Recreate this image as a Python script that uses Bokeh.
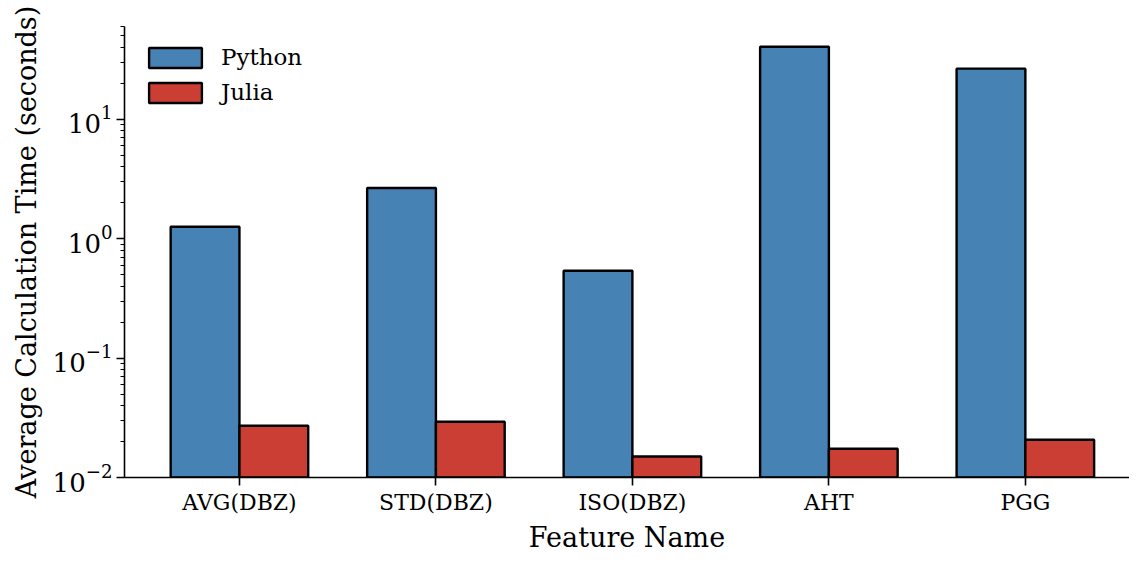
import numpy as np
from bokeh.plotting import figure
from bokeh.models import Range1d, FixedTicker, LogTicker, ColumnDataSource, Legend, LegendItem
from bokeh.embed import file_html
from bokeh.resources import INLINE

categories = ["AVG(DBZ)", "STD(DBZ)", "ISO(DBZ)", "AHT", "PGG"]
python_times = [1.26, 2.66, 0.54, 40.6, 26.6]
julia_times = [0.0271, 0.0293, 0.0150, 0.0174, 0.0207]

FONT = "DejaVu Serif"
idx = np.arange(len(categories))
bar_w = 0.35

p = figure(width=1129, height=555, y_axis_type="log",
           x_range=Range1d(-0.585, 4.53), y_range=Range1d(0.01, 60),
           output_backend="svg", toolbar_location=None,
           min_border_left=124, min_border_top=26, min_border_bottom=73, min_border_right=0)
p.outline_line_color = None
p.xgrid.visible = False
p.ygrid.visible = False

src_py = ColumnDataSource(dict(x=idx - bar_w / 2, top=python_times))
src_jl = ColumnDataSource(dict(x=idx + bar_w / 2, top=julia_times))
r_py = p.vbar(x="x", top="top", bottom=0.01, width=bar_w, source=src_py,
              fill_color="#4682B4", line_color="black", line_width=2.4)
r_jl = p.vbar(x="x", top="top", bottom=0.01, width=bar_w, source=src_jl,
              fill_color="#CB3E34", line_color="black", line_width=2.4)

legend = Legend(items=[LegendItem(label="Python", renderers=[r_py]),
                       LegendItem(label="Julia", renderers=[r_jl])],
                location="top_left", border_line_color=None, background_fill_alpha=0,
                label_text_font=FONT, label_text_font_size="23px", label_text_color="black",
                glyph_width=66, glyph_height=25, label_height=25, spacing=9,
                label_standoff=13, margin=18, padding=0)
p.add_layout(legend)

xa = p.xaxis[0]
xa.ticker = FixedTicker(ticks=list(idx))
xa.major_label_overrides = {int(i): c for i, c in zip(idx, categories)}
xa.minor_tick_line_color = None
ya = p.yaxis[0]
ya.ticker = LogTicker(num_minor_ticks=10)

for ax in (xa, ya):
    ax.axis_line_width = 1.6
    ax.axis_line_color = "black"
    ax.major_tick_line_width = 1.6
    ax.major_tick_line_color = "black"
    ax.major_tick_out = 8
    ax.major_tick_in = 0
    ax.minor_tick_out = 4
    ax.minor_tick_in = 0
    ax.minor_tick_line_width = 1.2
    ax.major_label_text_font = FONT
    ax.major_label_text_color = "black"
    ax.major_label_standoff = 4
    ax.axis_label_text_font = FONT
    ax.axis_label_text_font_size = "27px"
    ax.axis_label_text_font_style = "normal"
    ax.axis_label_text_color = "black"

xa.major_label_text_font_size = "22px"
ya.major_label_text_font_size = "26px"
xa.axis_label = "Feature Name"
ya.axis_label = "Average Calculation Time (seconds)"
xa.axis_label_standoff = 4
ya.axis_label_standoff = 8

open("out.html", "w").write(file_html(p, INLINE))
